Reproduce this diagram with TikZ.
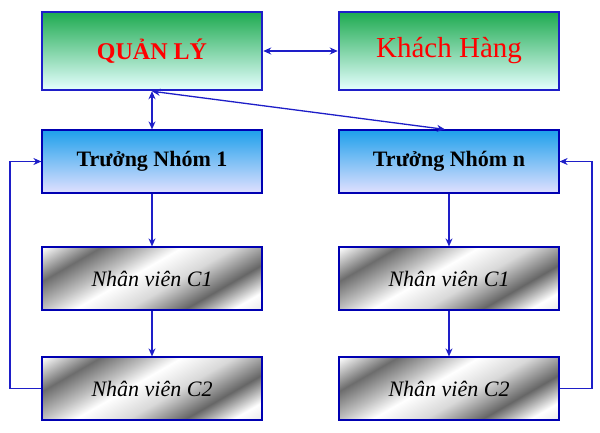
\documentclass[tikz,border=0pt]{standalone}
\usepackage{fontspec}
\setmainfont{Liberation Serif}
\usetikzlibrary{arrows.meta}
\pgfdeclarehorizontalshading{metal}{100bp}{
 color(0bp)=(gray!60); color(22bp)=(white); color(32bp)=(gray!80!black); color(44bp)=(gray!30);
 color(55bp)=(white); color(62bp)=(gray!50); color(72bp)=(gray!85!black); color(84bp)=(white); color(100bp)=(gray!50)}
\definecolor{bord}{RGB}{30,30,200}
\definecolor{grn}{RGB}{30,170,80}
\definecolor{sky}{RGB}{30,160,235}
\tikzset{
 box/.style={draw=bord, line width=2.5pt, minimum width=220pt, inner sep=0pt},
 top/.style={box, minimum height=78pt, top color=grn, bottom color=cyan!10!white, text=red, font=\bfseries\fontsize{24}{26}\selectfont},
 lead/.style={box, line width=1.2pt, draw=blue!70!black, minimum height=63pt, top color=sky, bottom color=blue!12!white, font=\bfseries\fontsize{22}{24}\selectfont},
 staff/.style={box, line width=1.2pt, draw=blue!70!black, minimum height=63pt, shading=metal, shading angle=120, font=\itshape\fontsize{22}{24}\selectfont},
 ar/.style={draw=bord, line width=1.3pt, -{Stealth[length=8pt,width=7pt]}},
 dar/.style={ar, {Stealth[length=8pt,width=7pt]}-{Stealth[length=8pt,width=7pt]}}
}
\begin{document}
\begin{tikzpicture}[x=1pt,y=-1pt]
\useasboundingbox[fill=white] (0,0) rectangle (600,432);
\node[top] (ql) at (152,51) {QUẢN LÝ};
\node[top, font=\fontsize{29}{31}\selectfont] (kh) at (449,51) {Khách Hàng};
\node[lead] (t1) at (152,161.5) {Trưởng Nhóm 1};
\node[lead] (tn) at (449,161.5) {Trưởng Nhóm n};
\node[staff] (a1) at (152,278.5) {Nhân viên C1};
\node[staff] (a2) at (152,388.5) {Nhân viên C2};
\node[staff] (b1) at (449,278.5) {Nhân viên C1};
\node[staff] (b2) at (449,388.5) {Nhân viên C2};
\coordinate (lq) at (10,388.5);
\coordinate (rq) at (592,388.5);
\draw[dar] (ql.east) -- (kh.west);
\draw[dar] (ql.south) -- (t1.north);
\draw[dar] (ql.south) -- ([xshift=-4pt]tn.north);
\draw[ar] (t1) -- (a1);
\draw[ar] (a1) -- (a2);
\draw[ar] (tn) -- (b1);
\draw[ar] (b1) -- (b2);
\draw[ar] (a2.west) -- (lq) |- (t1.west);
\draw[ar] (b2.east) -- (rq) |- (tn.east);
\end{tikzpicture}
\end{document}
